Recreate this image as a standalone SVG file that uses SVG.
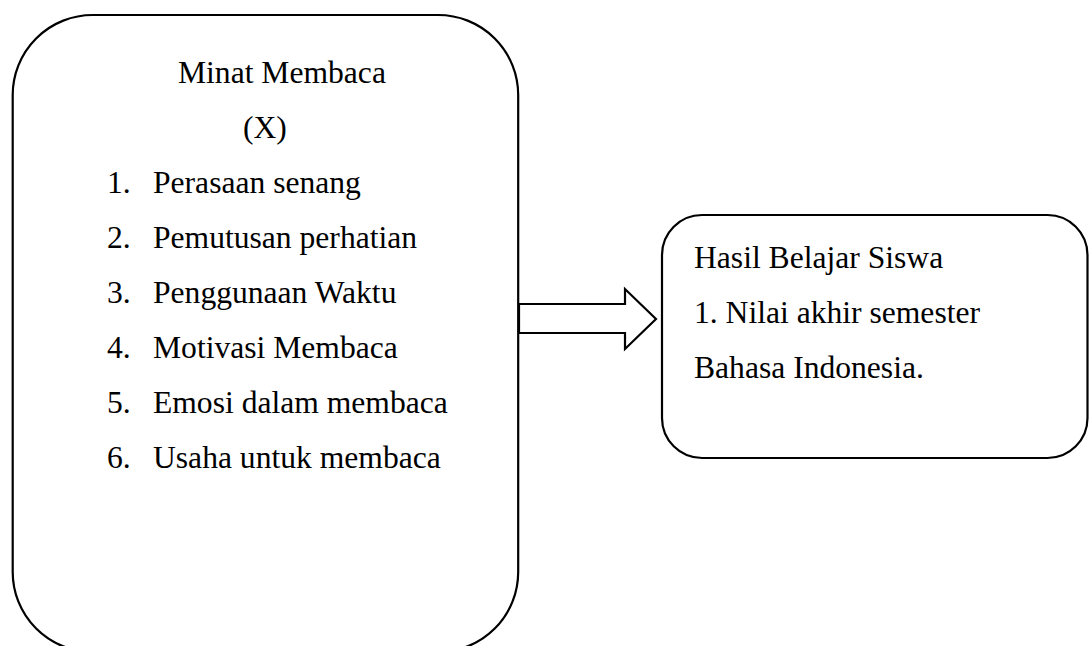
<svg xmlns="http://www.w3.org/2000/svg" width="1089" height="646" viewBox="0 0 1089 646">
<style>
.box{fill:#fff;stroke:#000;stroke-width:2.2}
.t{font-family:"Liberation Serif","Times New Roman",serif;font-size:31.6px;fill:#000}
.arrow{fill:#fff;stroke:#000;stroke-width:2.2;stroke-linejoin:miter}
</style>
<rect width="1089" height="646" fill="#fff"/>
<g id="node-minat">
<rect class="box" x="12.7" y="15" width="505.5" height="637" rx="80" ry="80"/>
<text class="t" x="178" y="82.7">Minat Membaca</text>
<text class="t" x="243" y="137.7">(X)</text>
<text class="t" x="107" y="192.7">1.</text><text class="t" x="153" y="192.7">Perasaan senang</text>
<text class="t" x="107" y="247.7">2.</text><text class="t" x="153" y="247.7">Pemutusan perhatian</text>
<text class="t" x="107" y="302.7">3.</text><text class="t" x="153" y="302.7">Penggunaan Waktu</text>
<text class="t" x="107" y="357.7">4.</text><text class="t" x="153" y="357.7">Motivasi Membaca</text>
<text class="t" x="107" y="412.7">5.</text><text class="t" x="153" y="412.7">Emosi dalam membaca</text>
<text class="t" x="107" y="467.7">6.</text><text class="t" x="153" y="467.7">Usaha untuk membaca</text>
</g>
<g id="node-hasil">
<rect class="box" x="662" y="215" width="425.5" height="243" rx="40" ry="40"/>
<text class="t" x="694" y="268.3">Hasil Belajar Siswa</text>
<text class="t" x="694" y="323.3">1. Nilai akhir semester</text>
<text class="t" x="694" y="378.3">Bahasa Indonesia.</text>
</g>
<g id="connectors">
<polygon class="arrow" points="519,304 625,304 625,289 656,319 625,349 625,333 519,333"/>
</g>
</svg>
